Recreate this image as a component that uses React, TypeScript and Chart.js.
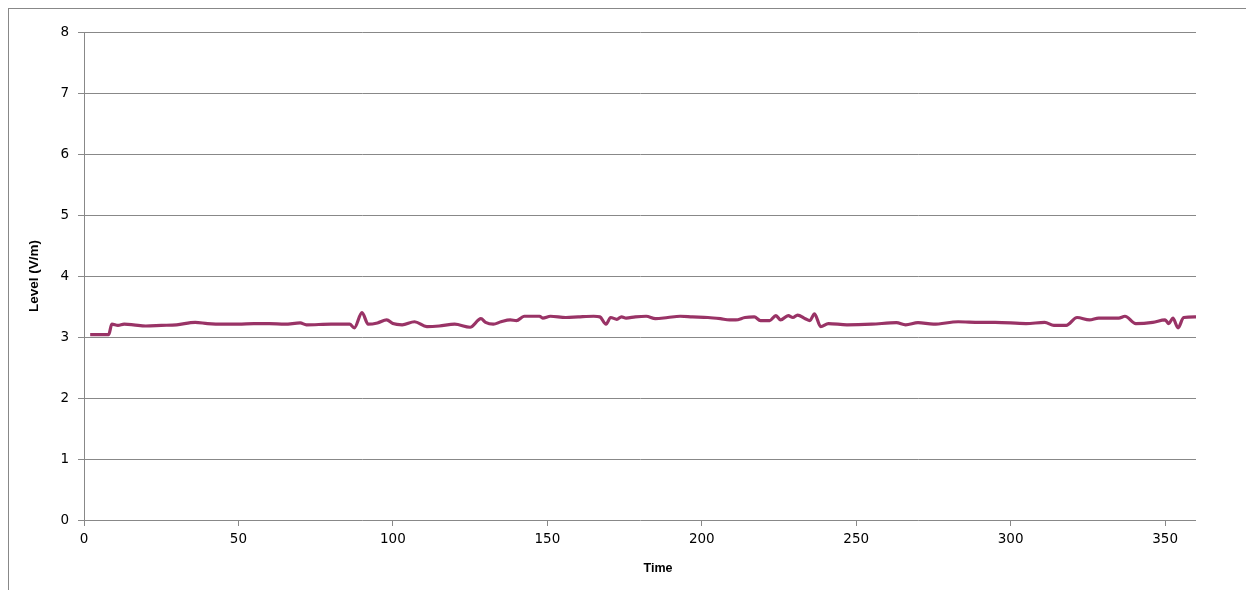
import React, { useEffect, useRef } from "react";
import { Chart, registerables } from "chart.js";

Chart.register(...registerables);

const times: number[] = [
  2, 8, 9, 11, 13, 16, 20, 25, 30, 36, 40, 45, 50, 55, 60, 65, 70, 72, 80, 86,
  87.5, 90, 92, 95, 98, 100, 103, 107, 111, 115, 120, 125, 128.5, 130, 132.5,
  135, 138, 140, 142.5, 147.5, 148.5, 151, 156, 160, 165, 167, 169, 170.5,
  172.5, 174, 175.5, 178.5, 182, 185, 189, 193, 197, 202, 206, 209, 211, 214,
  217, 219, 222, 224, 225.5, 228, 229.5, 231, 233.5, 235, 236.5, 238.5, 241,
  247, 255, 263, 266, 270, 275, 283, 290, 295, 305, 311, 314, 318, 321.5,
  325.5, 328.5, 335, 337, 340.5, 346, 350, 351.2, 352.5, 354.2, 356, 360,
];

const levels: number[] = [
  3.04, 3.04, 3.21, 3.19, 3.21, 3.2, 3.18, 3.19, 3.2, 3.24, 3.22, 3.21, 3.21,
  3.22, 3.22, 3.21, 3.23, 3.2, 3.21, 3.21, 3.15, 3.4, 3.21, 3.23, 3.28, 3.22,
  3.2, 3.25, 3.17, 3.18, 3.21, 3.16, 3.3, 3.24, 3.21, 3.25, 3.28, 3.27, 3.34,
  3.34, 3.31, 3.34, 3.32, 3.33, 3.34, 3.33, 3.21, 3.32, 3.29, 3.33, 3.31, 3.33,
  3.34, 3.3, 3.32, 3.34, 3.33, 3.32, 3.3, 3.28, 3.28, 3.32, 3.33, 3.27, 3.27,
  3.35, 3.28, 3.35, 3.32, 3.36, 3.3, 3.27, 3.38, 3.17, 3.22, 3.2, 3.21, 3.235,
  3.2, 3.235, 3.21, 3.25, 3.24, 3.24, 3.22, 3.24, 3.19, 3.19, 3.32, 3.28, 3.31,
  3.31, 3.34, 3.22, 3.24, 3.28, 3.22, 3.31, 3.15, 3.32, 3.33,
];

const xTitle = "Time";
const yTitle = "Level (V/m)";

export default function App() {
  const ref = useRef<HTMLCanvasElement | null>(null);

  useEffect(() => {
    if (!ref.current) return;
    const points = times.map((t, i) => ({ x: t, y: levels[i] }));
    const timeTitle = {
      id: "timeTitle",
      afterDraw(chart: any) {
        const { ctx, chartArea } = chart;
        ctx.save();
        ctx.font = 'bold 12.5px "Liberation Sans", Arial, sans-serif';
        ctx.fillStyle = "#000";
        ctx.textAlign = "center";
        ctx.textBaseline = "middle";
        ctx.fillText(xTitle, (chartArea.left + chartArea.right) / 2 + 18, chartArea.bottom + 49);
        ctx.restore();
      },
    };
    const chart = new Chart(ref.current, {
      type: "line",
      data: {
        datasets: [
          {
            data: points,
            borderColor: "#993366",
            borderWidth: 3.2,
            pointRadius: 0,
            fill: false,
            cubicInterpolationMode: "monotone",
          },
        ],
      },
      options: {
        animation: false,
        responsive: false,
        maintainAspectRatio: false,
        layout: { padding: { top: 23, left: 0, right: 51, bottom: 33 } },
        plugins: { legend: { display: false }, tooltip: { enabled: false } },
        scales: {
          x: {
            type: "linear",
            min: 0,
            max: 360,
            ticks: {
              stepSize: 50,
              includeBounds: false,
              color: "#000",
              padding: 5,
              maxRotation: 0,
              font: { family: '"DejaVu Sans", sans-serif', size: 13.5 },
            },
            grid: { drawOnChartArea: false, drawTicks: true, tickLength: 6, color: "#888" },
            border: { display: false },
            afterFit: (s: any) => {
              s.height = 56;
            },
          },
          y: {
            min: 0,
            max: 8,
            ticks: {
              stepSize: 1,
              color: "#000",
              padding: 9,
              font: { family: '"DejaVu Sans", sans-serif', size: 13.5 },
            },
            grid: { color: "#888", drawTicks: true, tickLength: 6 },
            border: { display: true, color: "#888" },
            title: {
              display: true,
              text: yTitle,
              color: "#000",
              padding: { top: 17, bottom: 0 },
              font: { family: '"Liberation Sans", Arial, sans-serif', weight: "bold", size: 13.5 },
            },
            afterFit: (s: any) => {
              s.width = 75;
            },
          },
        },
      },
      plugins: [timeTitle],
    } as any);
    return () => chart.destroy();
  }, []);

  return (
    <div
      style={{
        position: "relative",
        width: 1238,
        height: 600,
        border: "1px solid #888",
        background: "#fff",
      }}
    >
      <canvas ref={ref} width={1238} height={600} style={{ display: "block", width: 1238, height: 600 }} />
    </div>
  );
}
